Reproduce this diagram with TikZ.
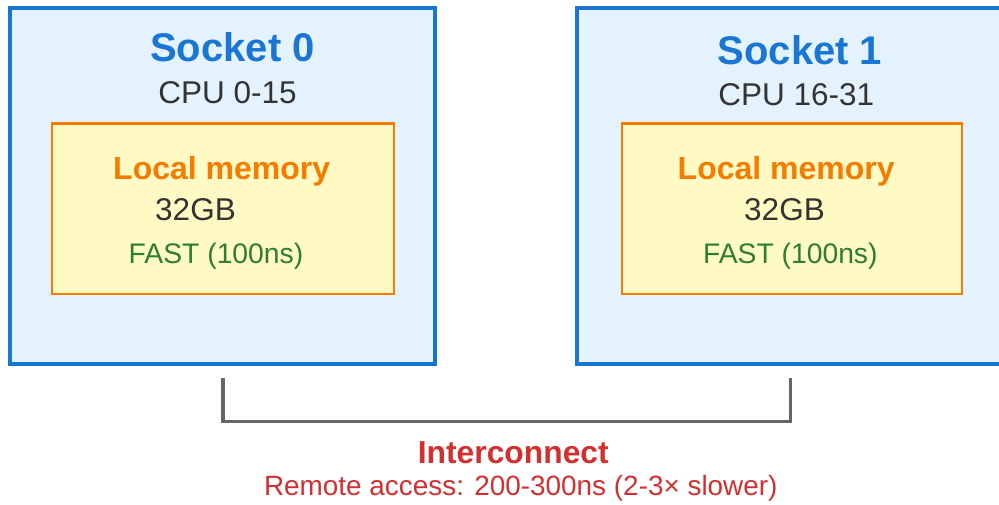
\documentclass[tikz,border=0pt]{standalone}
\usepackage{fontspec}
\setmainfont{Liberation Sans}
\definecolor{sockfill}{HTML}{E3F2FD}
\definecolor{sockline}{HTML}{1976D2}
\definecolor{memfill}{HTML}{FFF9C4}
\definecolor{memline}{HTML}{F57C00}
\definecolor{darktext}{HTML}{333333}
\definecolor{fastgreen}{HTML}{2E7D32}
\definecolor{redtext}{HTML}{D32F2F}
\definecolor{bracketgray}{HTML}{666666}
\tikzset{
  sockbox/.style={draw=sockline, fill=sockfill, line width=4pt, minimum width=425pt, minimum height=356pt, inner sep=0pt},
  membox/.style={draw=memline, fill=memfill, line width=2.6pt, minimum height=170.5pt, inner sep=0pt},
  socktitle/.style={anchor=base, inner sep=0pt, text=sockline, font=\fontsize{40}{48}\selectfont\bfseries},
  cputext/.style={anchor=base, inner sep=0pt, text=darktext, font=\fontsize{31.5}{38}\selectfont},
  memtitle/.style={anchor=base, inner sep=0pt, text=memline, font=\fontsize{32}{38}\selectfont\bfseries},
  sizetext/.style={anchor=base, inner sep=0pt, text=darktext, font=\fontsize{31.5}{38}\selectfont},
  fasttext/.style={anchor=base, inner sep=0pt, text=fastgreen, font=\fontsize{28.3}{34}\selectfont},
  ictitle/.style={anchor=base, inner sep=0pt, text=redtext, font=\fontsize{31.8}{38}\selectfont\bfseries},
  ictext/.style={anchor=base, inner sep=0pt, text=redtext, font=\fontsize{27.9}{33}\selectfont},
  bracketline/.style={draw=bracketgray, line width=3.5pt, line join=miter, line cap=butt}
}
\begin{document}
\begin{tikzpicture}[x=1pt, y=-1pt]
\useasboundingbox (0,0) rectangle (999,505);
\clip (0,0) rectangle (999,505);
% sockets
\node[sockbox] (s0) at (222,186) {};
\node[sockbox] (s1) at (789.5,186) {};
% memory boxes
\node[membox, minimum width=342pt] (m0) at (223,208.7) {};
\node[membox, minimum width=340pt] (m1) at (792,208.7) {};
% socket texts
\node[socktitle] (t0) at (232.5,61.7) {Socket 0};
\node[cputext] (c0) at (227.5,103.3) {CPU 0-15};
\node[socktitle] (t1) at (800,64.5) {Socket 1};
\node[cputext] (c1) at (796.3,105.5) {CPU 16-31};
% memory texts
\node[memtitle] (l0) at (221.7,180) {Local memory};
\node[sizetext] (g0) at (195.5,220.7) {32GB};
\node[fasttext] (f0) at (216,263.3) {FAST (100ns)};
\node[memtitle] (l1) at (786.2,180) {Local memory};
\node[sizetext] (g1) at (784.5,220.7) {32GB};
\node[fasttext] (f1) at (790.3,263.3) {FAST (100ns)};
% interconnect bracket
\coordinate (bl) at (223,378.3);
\coordinate (bl2) at (223,421.7);
\coordinate (br) at (790.7,378.3);
\draw[bracketline] (bl) -- (bl2) -| (br);
\node[ictitle] (ic) at (513.3,463.3) {Interconnect};
\node[ictext] (ra) at (520.8,495) {Remote access: 200-300ns (2-3× slower)};
\end{tikzpicture}
\end{document}
